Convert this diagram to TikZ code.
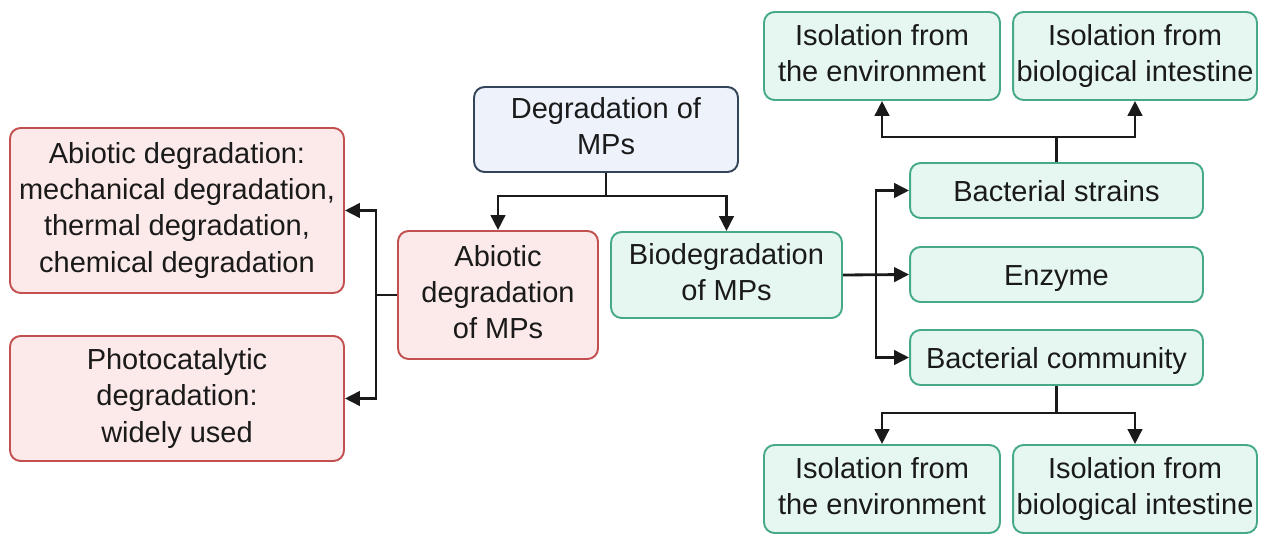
\documentclass[tikz,border=0pt]{standalone}
\usepackage{fontspec}
\setmainfont{Liberation Sans}
\usetikzlibrary{arrows.meta,positioning,calc}
\definecolor{cRoot}{HTML}{EEF3FB}
\definecolor{cRootLine}{HTML}{34445A}
\definecolor{cAbio}{HTML}{FCE9E9}
\definecolor{cAbioLine}{HTML}{C25050}
\definecolor{cBio}{HTML}{E6F7F1}
\definecolor{cBioLine}{HTML}{45A98A}
\definecolor{cInk}{HTML}{1A1A1A}
\tikzset{
  block/.style={draw, rounded corners=6pt, align=center, line width=1.1pt,
     inner sep=2pt, text=cInk, font=\fontsize{16.5}{20.5}\selectfont,
     execute at begin node=\rule{0pt}{0.97em}, execute at end node=\vphantom{g}},
  root/.style={block, fill=cRoot, draw=cRootLine},
  abiobox/.style={block, fill=cAbio, draw=cAbioLine},
  biobox/.style={block, fill=cBio, draw=cBioLine},
  flow/.style={-{Triangle[length=3mm,width=2.9mm]}, line width=1.6pt, draw=cInk},
  link/.style={line width=1.6pt, draw=cInk},
}
\begin{document}
\begin{tikzpicture}[x=0.02cm, y=-0.02cm]
  \useasboundingbox (0,0) rectangle (1265,536);
  % centre and branches
  \node[root, minimum width=5.28cm, minimum height=1.70cm] (deg) at (606,129.5) {Degradation of\\MPs};
  \node[abiobox, minimum width=4.0cm, minimum height=2.56cm] (abio) at (498,295) {Abiotic\\degradation\\of MPs};
  \node[biobox, minimum width=4.62cm, minimum height=1.72cm] (bio) at (726.5,275) {Biodegradation\\of MPs};
  % abiotic side
  \node[abiobox, minimum width=6.68cm, minimum height=3.3cm] (mech) at (177,210.5)
    {Abiotic degradation:\\mechanical degradation,\\thermal degradation,\\chemical degradation};
  \node[abiobox, minimum width=6.68cm, minimum height=2.5cm] (photo) at (177,398.5)
    {Photocatalytic\\degradation:\\widely used};
  % biotic side
  \node[biobox, minimum width=5.86cm, minimum height=1.1cm] (strains) at (1056.5,190.5) {Bacterial strains};
  \node[biobox, minimum width=5.86cm, minimum height=1.1cm] (enzyme) at (1056.5,274.5) {Enzyme};
  \node[biobox, minimum width=5.86cm, minimum height=1.1cm] (community) at (1056.5,357.5) {Bacterial community};
  \node[biobox, minimum width=4.72cm, minimum height=1.76cm] (envtop) at (882,56) {Isolation from\\the environment};
  \node[biobox, minimum width=4.8cm, minimum height=1.76cm] (guttop) at (1135,56) {Isolation from\\biological intestine};
  \node[biobox, minimum width=4.72cm, minimum height=1.76cm] (envbot) at (882,489) {Isolation from\\the environment};
  \node[biobox, minimum width=4.8cm, minimum height=1.76cm] (gutbot) at (1135,489) {Isolation from\\biological intestine};
  % junctions
  \coordinate (split) at (606,196);
  \coordinate (lbus) at (376,295);
  \coordinate (rbus) at (876,275);
  \coordinate (tbus) at (1056.5,137);
  \coordinate (bbus) at (1056.5,413);
  % connectors
  \draw[link] (deg.south) -- (split);
  \draw[flow] (split) -| (abio.north);
  \draw[flow] (split) -| (bio.north);
  \draw[link] (abio.west) -- (lbus);
  \draw[flow] (lbus) |- (mech.east);
  \draw[flow] (lbus) |- (photo.east);
  \draw[flow] (bio.east) -- (enzyme.west);
  \draw[flow] (rbus) |- (strains.west);
  \draw[flow] (rbus) |- (community.west);
  \draw[link] (strains.north) -- (tbus);
  \draw[flow] (tbus) -| (envtop.south);
  \draw[flow] (tbus) -| (guttop.south);
  \draw[link] (community.south) -- (bbus);
  \draw[flow] (bbus) -| (envbot.north);
  \draw[flow] (bbus) -| (gutbot.north);
\end{tikzpicture}
\end{document}
